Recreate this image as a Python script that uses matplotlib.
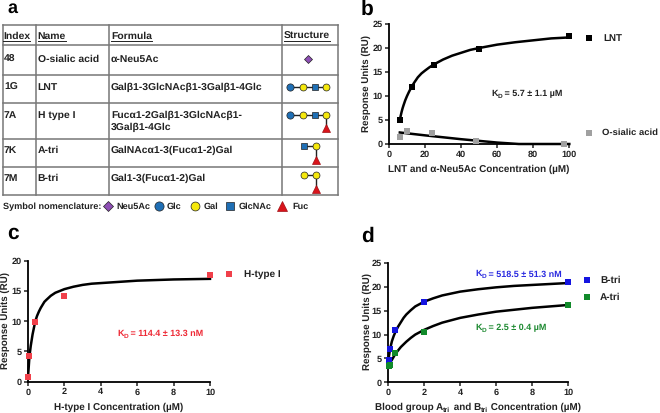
import matplotlib
matplotlib.use("Agg")
import matplotlib.pyplot as plt

plt.rcParams["font.family"] = ["Liberation Sans", "DejaVu Sans"]
plt.rcParams["font.weight"] = "bold"
plt.rcParams["text.hinting"] = "none"

W, H = 660, 413
TXT = "#222222"
MS = 3.7

# table
table_header = ["Index", "Name", "Formula", "Structure"]
table_index = ["48", "1G", "7A", "7K", "7M"]
table_names = ["O-sialic acid", "LNT", "H type I", "A-tri", "B-tri"]
table_formula = ["α-Neu5Ac", "Galβ1-3GlcNAcβ1-3Galβ1-4Glc",
                 "Fucα1-2Galβ1-3GlcNAcβ1-\n3Galβ1-4Glc",
                 "GalNAcα1-3(Fucα1-2)Gal", "Gal1-3(Fucα1-2)Gal"]
col_lines = [3, 35.5, 109, 281.5, 338]
row_lines = [25, 45, 75, 103, 139, 167, 195]

# panel b
lnt_x = [6.25, 12.5, 25, 50, 100]
lnt_y = [5.1, 11.8, 16.4, 19.7, 22.4]
lnt_fit_x = [6, 6.5, 7, 7.5, 8, 9, 10, 11, 12.5, 14, 16, 18, 20, 22.5, 25, 30, 35, 40, 45, 50, 60, 70, 80, 90, 100]
lnt_fit_y = [5.0, 5.9, 6.7, 7.4, 8.0, 9.1, 10.0, 10.8, 11.9, 12.8, 13.9, 14.7, 15.3, 16.0, 16.6, 17.6, 18.4, 19.0, 19.6, 20.0, 20.7, 21.2, 21.6, 22.0, 22.2]
sialic_x = [6.25, 10, 24, 48, 97]
sialic_y = [1.5, 2.8, 2.3, 0.6, 0.0]
sialic_fit_x = [6, 20, 40, 60, 72, 100]
sialic_fit_y = [2.4, 1.8, 1.0, 0.3, 0.0, 0.0]

# panel c
htype_x = [0.016, 0.08, 0.4, 2, 10]
htype_y = [0.8, 4.2, 9.8, 14.1, 17.7]
htype_fit_x = [0, 0.03, 0.08, 0.15, 0.25, 0.4, 0.5, 0.6, 0.7, 0.8, 0.9, 1, 1.25, 1.5, 1.75, 2, 2.5, 3, 3.5, 4, 5, 6, 8, 10]
htype_fit_y = [0.8, 2.0, 4.2, 5.9, 7.8, 10.0, 10.9, 11.6, 12.2, 12.7, 13.2, 13.5, 14.2, 14.7, 15.0, 15.3, 15.7, 16.0, 16.2, 16.3, 16.5, 16.7, 16.9, 17.0]

# panel d
btri_x = [0.016, 0.08, 0.4, 2, 10]
btri_y = [4.7, 7.0, 11.0, 16.8, 21.1]
btri_fit_x = [0, 0.1, 0.2, 0.3, 0.4, 0.55, 0.7, 0.85, 1, 1.25, 1.5, 1.75, 2, 2.5, 3, 3.5, 4, 5, 6, 7, 8, 9, 10]
btri_fit_y = [4.6, 7.0, 8.6, 9.7, 10.6, 11.7, 12.6, 13.5, 14.2, 15.1, 15.9, 16.4, 16.9, 17.6, 18.2, 18.6, 19.0, 19.5, 19.9, 20.2, 20.4, 20.6, 20.8]
atri_x = [0.016, 0.08, 0.4, 2, 10]
atri_y = [3.4, 3.7, 6.1, 10.5, 16.3]
atri_fit_x = [0, 0.2, 0.4, 0.7, 1, 1.25, 1.5, 1.75, 2, 2.5, 3, 3.5, 4, 5, 6, 7, 8, 9, 10]
atri_fit_y = [3.5, 4.7, 6.0, 7.4, 8.5, 9.3, 10.0, 10.5, 11.0, 11.8, 12.5, 13.0, 13.5, 14.2, 14.8, 15.2, 15.6, 15.9, 16.2]

fig = plt.figure(figsize=(W / 100, H / 100), dpi=100)

# overlay in pixel coordinates for table, symbols and free text
ov = fig.add_axes([0, 0, 1, 1], zorder=5)
ov.set_xlim(0, W)
ov.set_ylim(H, 0)
ov.axis("off")
ov.patch.set_alpha(0)
renderer = fig.canvas.get_renderer()


def px_axes(x0, x1, y_top, y_bot):
    ax = fig.add_axes([x0 / W, 1 - y_bot / H, (x1 - x0) / W, (y_bot - y_top) / H])
    ax.patch.set_alpha(0)
    for s in ["top", "right"]:
        ax.spines[s].set_visible(False)
    for s in ["left", "bottom"]:
        ax.spines[s].set_linewidth(1.3)
    ax.tick_params(width=1.1, length=3, labelsize=6.6, pad=1.5, colors=TXT)
    return ax


def sq(ax, x, y, color):
    ax.plot(x, y, ls="", marker="s", ms=MS, color=color, mew=0, clip_on=False, zorder=4)


def fit(ax, x, y):
    ax.plot(x, y, color="black", lw=1.8, clip_on=False, zorder=3, solid_joinstyle="round")


def sub_text(x, y, parts, size, color, center=False):
    # parts alternate normal text and subscript, mathtext jitters the digits at this size
    items = []
    for i, part in enumerate(parts):
        is_sub = i % 2 == 1
        t = ov.text(x, y + (2 if is_sub else 0), part, fontsize=size * (0.72 if is_sub else 1),
                    color=color, va="baseline", ha="left")
        items.append((t, t.get_window_extent(renderer).width))
    total = sum(wid for _, wid in items)
    cur = x - total / 2 if center else x
    for t, wid in items:
        t.set_x(cur)
        cur += wid


# table grid
for x in col_lines:
    ov.plot([x, x], [row_lines[0], row_lines[-1]], color="#777777", lw=1.1)
for y in row_lines:
    ov.plot([col_lines[0], col_lines[-1]], [y, y], color="#777777", lw=1.1)

for x, label in zip([3.5, 37.5, 111, 284], table_header):
    ov.text(x, 36.5, label, fontsize=7.5, color=TXT, va="center", ha="left")
header_ul = [(3.3, 30), (37.7, 65.7), (111, 152), (284, 330)]
for a, b in header_ul:
    ov.plot([a, b], [41, 41], color=TXT, lw=0.7)

row_text_y = [59, 87, 115, 150.5, 178.5]
for i in range(5):
    ov.text(4, row_text_y[i], table_index[i], fontsize=7.5, color=TXT, va="center")
    ov.text(37.5, row_text_y[i], table_names[i], fontsize=7.5, color=TXT, va="center")
    for j, part in enumerate(table_formula[i].split("\n")):
        ov.text(111, row_text_y[i] + j * 12.5, part, fontsize=7.5, color=TXT, va="center")

# glycan symbols
STY = {
    "neu": ("D", "#8e4fb5", 4.2),
    "glc": ("o", "#1f6fb5", 5.2),
    "gal": ("o", "#f5e80c", 5),
    "nac": ("s", "#1f6fb5", 4.8),
    "fuc": ("^", "#d9141b", 5.4),
}


def sym(kind, x, y):
    m, c, s = STY[kind]
    ov.plot(x, y, marker=m, color=c, ms=s, mec="#222222" if kind != "fuc" else "#a01015", mew=0.5, ls="", zorder=6)


def link(x0, y0, x1, y1):
    ov.plot([x0, x1], [y0, y1], color="#222222", lw=1, zorder=5)


sym("neu", 307.7, 59)
for cy in [87, 114.5]:
    link(290, cy, 326, cy)
    sym("glc", 290, cy)
    sym("gal", 303, cy)
    sym("nac", 315, cy)
    sym("gal", 326, cy)
link(326, 114.5, 326, 127)
sym("fuc", 326, 127.5)

link(303.7, 146, 315.7, 146)
link(315.7, 146, 315.7, 159)
sym("nac", 303.7, 146)
sym("gal", 315.7, 146)
sym("fuc", 315.7, 159.5)

link(303.7, 175, 315.7, 175)
link(315.7, 175, 315.7, 188)
sym("gal", 303.7, 175)
sym("gal", 315.7, 175)
sym("fuc", 315.7, 188.5)

# symbol key
ov.text(3, 206.5, "Symbol nomenclature:", fontsize=6.6, color=TXT, va="center")
key = [("neu", 108, "Neu5Ac", 116), ("glc", 159, "Glc", 167), ("gal", 195, "Gal", 204),
       ("nac", 230, "GlcNAc", 239), ("fuc", 282, "Fuc", 292)]
for kind, sx, label, tx in key:
    m, c, s = STY[kind]
    ov.plot(sx, 206, marker=m, color=c, ms=s + 1.4, mec="#222222" if kind != "fuc" else "#a01015", mew=0.5, ls="")
    ov.text(tx, 206.5, label, fontsize=6.6, color=TXT, va="center")

# panel letters
for label, x, y, size in [("a", 7, 13, 13), ("b", 361, 15, 15), ("c", 7, 239, 15), ("d", 361, 242, 15)]:
    ov.text(x, y, label, fontsize=size, color="black", va="baseline")

# panel b
ax = px_axes(389, 569.3, 24, 144)
fit(ax, lnt_fit_x, lnt_fit_y)
fit(ax, sialic_fit_x, sialic_fit_y)
sq(ax, lnt_x, lnt_y, "black")
sq(ax, sialic_x, sialic_y, "#a0a0a0")
ax.set_xlim(0, 100)
ax.set_ylim(0, 25)
ax.set_xticks([0, 20, 40, 60, 80, 100])
ax.set_yticks([0, 5, 10, 15, 20, 25])

ov.plot(589, 38, marker="s", ms=MS, color="black", mew=0)
ov.text(603, 38, "LNT", fontsize=7, color=TXT, va="center")
ov.plot(589, 133, marker="s", ms=MS, color="#a0a0a0", mew=0)
ov.text(602.5, 133, "O-sialic acid", fontsize=6.8, color=TXT, va="center")
sub_text(491, 96.5, ["K", "D", " = 5.7 ± 1.1 µM"], 6.5, TXT)
ov.text(479, 169, "LNT and α-Neu5Ac Concentration (µM)", fontsize=7.15, color=TXT, ha="center", va="center")
ov.text(366, 84, "Response Units (RU)", fontsize=7, color=TXT, rotation=90, ha="center", va="center")

# panel c
ax = px_axes(28, 210, 260.7, 381.7)
fit(ax, htype_fit_x, htype_fit_y)
sq(ax, htype_x, htype_y, "#f0404a")
ax.set_xlim(0, 10)
ax.set_ylim(0, 20)
ax.set_xticks([0, 2, 4, 6, 8, 10])
ax.set_yticks([0, 5, 10, 15, 20])

ov.plot(229, 274, marker="s", ms=MS, color="#f0404a", mew=0)
ov.text(244, 274, "H-type I", fontsize=7.2, color=TXT, va="center")
sub_text(117, 335.5, ["K", "D", " = 114.4 ± 13.3 nM"], 6.5, "#ee2a36")
ov.text(119, 407, "H-type I Concentration (µM)", fontsize=7.15, color=TXT, ha="center", va="center")
ov.text(5, 321, "Response Units (RU)", fontsize=7, color=TXT, rotation=90, ha="center", va="center")

# panel d
ax = px_axes(388.3, 568, 263, 382.3)
fit(ax, btri_fit_x, btri_fit_y)
fit(ax, atri_fit_x, atri_fit_y)
sq(ax, btri_x, btri_y, "#1414e0")
sq(ax, atri_x, atri_y, "#118a2a")
ax.set_xlim(0, 10)
ax.set_ylim(0, 25)
ax.set_xticks([0, 2, 4, 6, 8, 10])
ax.set_yticks([0, 5, 10, 15, 20, 25])

ov.plot(587, 280, marker="s", ms=MS, color="#1414e0", mew=0)
ov.text(600, 280, "B-tri", fontsize=7.2, color=TXT, va="center")
ov.plot(587, 297, marker="s", ms=MS, color="#118a2a", mew=0)
ov.text(600, 297, "A-tri", fontsize=7.2, color=TXT, va="center")
sub_text(475, 276.5, ["K", "D", " = 518.5 ± 51.3 nM"], 6.5, "#2a2ae0")
sub_text(475, 330.5, ["K", "D", " = 2.5 ± 0.4 µM"], 6.5, "#1e8a32")
sub_text(478, 410, ["Blood group A", "tri", " and B", "tri", " Concentration (µM)"], 7.15, TXT, center=True)
ov.text(367, 322, "Response Units (RU)", fontsize=7, color=TXT, rotation=90, ha="center", va="center")

fig.savefig("out.png", dpi=100)
